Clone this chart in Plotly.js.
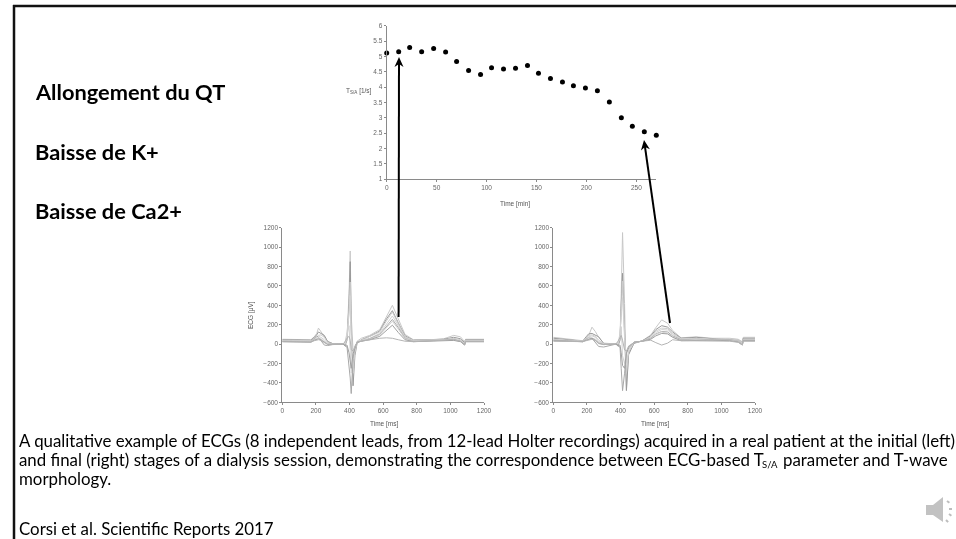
<!DOCTYPE html>
<html><head><meta charset="utf-8">
<script src="https://cdn.plot.ly/plotly-3.0.1.min.js"></script>
<style>html,body{margin:0;padding:0;background:#fff;overflow:hidden}
.cartesianlayer{filter:blur(.55px)}</style></head>
<body><div id="chart" style="width:956px;height:539px"></div>
<script>
// Top chart: T S/A parameter over the dialysis session
const sessionTime=[0,12,23,35,47,59,70,82,94,105,117,129,141,152,164,176,187,199,211,223,235,246,258,270];
const tsaValues=[5.11,5.15,5.29,5.15,5.26,5.14,4.83,4.54,4.41,4.63,4.59,4.61,4.70,4.45,4.28,4.16,4.04,3.97,3.88,3.51,3.00,2.72,2.54,2.43];

// Left ECG (initial stage)
const leftTime=[0,170,190,205,215,230,250,270,300,362,373,385,397,404,410,421,432,445,470,520,580,620,655,690,730,780,880,960,1020,1060,1085,1090,1200];
const leftA=[50,45,75,110,165,130,85,30,5,0,-15,70,520,960,300,-60,-40,30,60,90,150,280,400,260,100,45,45,55,90,75,25,50,50];
const leftB=[45,40,70,95,125,110,90,25,5,0,-20,40,420,850,200,-430,-120,10,45,80,135,260,345,220,85,40,42,50,70,55,15,45,45];
const leftC=[40,35,55,75,90,95,70,15,3,0,-15,60,350,640,100,-300,-80,20,40,75,125,240,330,210,75,38,40,45,60,45,5,40,40];
const leftD=[35,30,50,65,80,70,45,5,0,0,10,120,300,500,60,-200,-60,25,35,60,110,200,290,190,70,35,38,42,50,35,0,35,35];
const leftE=[30,25,60,85,70,30,-10,-15,-5,0,-20,-30,-200,-350,-510,-150,-20,15,30,55,100,180,255,170,60,30,35,40,45,30,-5,30,30];
const leftF=[30,25,45,60,65,55,25,0,0,0,20,90,190,-100,-300,-70,-30,20,35,50,95,170,235,155,55,30,35,38,42,28,-10,30,30];
const leftG=[25,20,40,50,55,45,15,-5,0,0,-10,-10,-90,-220,-250,-100,-40,20,30,45,80,140,195,120,45,25,30,35,38,25,-10,25,25];
const leftH=[25,20,35,40,45,40,15,0,0,0,25,60,80,40,-60,-70,-30,20,30,45,60,65,60,45,30,25,30,40,50,30,-5,25,25];

// Right ECG (final stage)
const rightTime=[0,175,195,210,230,250,270,300,362,373,385,397,404,412,424,435,448,480,530,580,610,645,680,710,760,850,950,1050,1100,1125,1130,1200];
const rightA=[70,35,60,85,175,130,70,10,3,0,-15,60,520,1150,420,-470,-90,5,35,95,170,250,215,140,65,75,60,60,50,25,70,70];
const rightB=[60,30,75,105,110,95,75,5,2,0,-20,40,400,730,150,-480,-110,10,35,85,150,190,175,125,60,70,55,50,40,15,60,60];
const rightC=[50,30,65,90,95,80,40,0,0,0,-10,80,350,650,100,-300,-80,15,30,75,135,165,160,110,55,60,50,55,45,10,50,50];
const rightD=[45,28,55,75,85,70,25,0,0,0,10,110,300,480,60,-200,-60,20,30,65,120,150,145,100,50,55,48,50,35,5,45,45];
const rightE=[40,25,50,65,60,20,-25,-30,-10,0,-20,-30,-250,-480,-300,-100,-20,15,30,60,105,130,125,85,45,50,45,45,30,0,40,40];
const rightF=[35,25,45,60,65,50,15,-5,0,0,25,70,180,-120,-200,-80,-30,20,30,55,100,125,110,75,40,45,42,40,28,-5,35,35];
const rightG=[35,25,40,50,60,40,10,-5,0,0,-10,-10,-90,-220,-250,-90,-40,20,30,50,85,110,105,70,35,40,40,35,22,-10,35,35];
const rightH=[30,25,35,45,50,35,5,-5,0,0,30,70,90,40,-60,-70,-30,20,30,40,15,-10,10,45,35,35,35,30,18,-10,30,30];

const leftLeads=[leftA,leftB,leftC,leftD,leftE,leftF,leftG,leftH];
const rightLeads=[rightA,rightB,rightC,rightD,rightE,rightF,rightG,rightH];
const leadColors=['#c8c8c8','#999999','#cccccc','#d2d2d2','#a8a8a8','#d2d2d2','#a0a0a0','#b4b4b4'];

const W=956,H=539;
const px=v=>v/W, py=v=>1-v/H;
const grey='#666', axisLine='#8a8a8a';
const base={showgrid:false,zeroline:false,showline:true,linecolor:axisLine,linewidth:1,ticks:'outside',ticklen:2,tickwidth:1,tickcolor:axisLine,
  tickfont:{family:'Liberation Sans',size:6.5,color:grey},automargin:false};

const traces=[{x:sessionTime,y:tsaValues,type:'scatter',mode:'markers',xaxis:'x',yaxis:'y',cliponaxis:false,
  marker:{color:'#000',size:5},showlegend:false}];
leftLeads.forEach((l,i)=>traces.push({x:leftTime,y:l,type:'scatter',mode:'lines',xaxis:'x2',yaxis:'y2',
  line:{color:leadColors[i],width:1},showlegend:false}));
rightLeads.forEach((l,i)=>traces.push({x:rightTime,y:l,type:'scatter',mode:'lines',xaxis:'x3',yaxis:'y3',
  line:{color:leadColors[i],width:1},showlegend:false}));

const xt={...base,range:[0,1200],tickvals:[0,200,400,600,800,1000,1200]};
const yt={...base,range:[-600,1200],tickvals:[-600,-400,-200,0,200,400,600,800,1000,1200],
  ticktext:['−600','−400','−200','0','200','400','600','800','1000','1200']};

function note(text,x,y,size,weight,color,family,extra){
  return Object.assign({text:weight?'<b>'+text+'</b>':text,xref:'paper',yref:'paper',x:px(x),y:py(y),xanchor:'left',yanchor:'middle',
    showarrow:false,align:'left',font:{family:family||'Lato',size:size,color:color||'#000'}},extra||{});
}
const small=(text,x,y,extra)=>note(text,x,y,6.5,false,'#555','Liberation Sans',Object.assign({xanchor:'center'},extra||{}));

const annotations=[
  note('Allongement du QT',32.5,92,21.8,true),
  note('Baisse de K+',32.5,151,21.8,true),
  note('Baisse de Ca2+',32.5,210,21.8,true),
  note('A qualitative example of ECGs (8 independent leads, from 12-lead Holter recordings) acquired in a real patient at the initial (left)',17,440,16.85),
  note('and final (right) stages of a dialysis session, demonstrating the correspondence between ECG-based T',17,459,16.85),
  note('S/A',759.5,464,9.5),
  note('parameter and T-wave',780.5,459,16.85),
  note('morphology.',17,478,16.85),
  note('Corsi et al. Scientific Reports 2017',17,528,16.85),
  small('T<sub>S/A</sub> [1/s]',359,91),
  small('Time [min]',515,204),
  small('Time [ms]',384,424),
  small('Time [ms]',655,424),
  small('ECG [μV]',251,315,{textangle:-90})
];

function arrow(x0,y0,x1,y1){
  const len=Math.hypot(x1-x0,y1-y0),ux=(x1-x0)/len,uy=(y1-y0)/len,nx=-uy,ny=ux;
  const P=(a,b)=>`${px(x1-ux*a+nx*b)} ${py(y1-uy*a+ny*b)}`;
  return [
    {type:'line',xref:'paper',yref:'paper',x0:px(x0),y0:py(y0),x1:px(x1-ux*6),y1:py(y1-uy*6),line:{color:'#000',width:2}},
    {type:'path',xref:'paper',yref:'paper',path:`M ${P(0,0)} L ${P(10,4.5)} L ${P(7,0)} L ${P(10,-4.5)} Z`,fillcolor:'#000',line:{width:0}}
  ];
}
const speakerBody=`M ${px(926)} ${py(505)} L ${px(933)} ${py(505)} L ${px(943)} ${py(497)} L ${px(943)} ${py(522)} L ${px(933)} ${py(515)} L ${px(926)} ${py(515)} Z`;
const wave=(a,b,c,d)=>({type:'line',xref:'paper',yref:'paper',x0:px(a),y0:py(b),x1:px(c),y1:py(d),line:{color:'#bdbdbd',width:2,dash:'dot'}});
const shapes=[
  {type:'line',xref:'paper',yref:'paper',x0:px(13),y0:py(6),x1:1,y1:py(6),line:{color:'#111',width:2.5}},
  {type:'line',xref:'paper',yref:'paper',x0:px(14),y0:py(5),x1:px(14),y1:0,line:{color:'#111',width:2.5}},
  ...arrow(398.6,317,399,57),
  ...arrow(670,323,644,140),
  {type:'path',xref:'paper',yref:'paper',path:speakerBody,fillcolor:'#c2c2c2',line:{width:0}},
  wave(947,501,951,504),wave(949,509,955,509),wave(949,514,953,517),wave(946,520,950,524)
];

const layout={width:W,height:H,margin:{l:0,r:0,t:0,b:0},autosize:false,paper_bgcolor:'#fff',plot_bgcolor:'rgba(0,0,0,0)',showlegend:false,
  xaxis:{...base,domain:[px(386.7),px(656.3)],range:[0,270],tickvals:[0,50,100,150,200,250],anchor:'y'},
  yaxis:{...base,domain:[py(179),py(25.7)],range:[1,6],tickvals:[1,1.5,2,2.5,3,3.5,4,4.5,5,5.5,6],anchor:'x',ticktext:['1','1.5','2','2.5','3','3.5','4','4.5','5','5.5','6']},
  xaxis2:{...xt,domain:[px(282.3),px(484)],anchor:'y2'},
  yaxis2:{...yt,domain:[py(402.3),py(227.7)],anchor:'x2'},
  xaxis3:{...xt,domain:[px(553.3),px(755)],anchor:'y3'},
  yaxis3:{...yt,domain:[py(402.3),py(227.7)],anchor:'x3'},
  annotations,shapes};
Plotly.newPlot('chart',traces,layout,{staticPlot:true,displayModeBar:false});
</script></body></html>
